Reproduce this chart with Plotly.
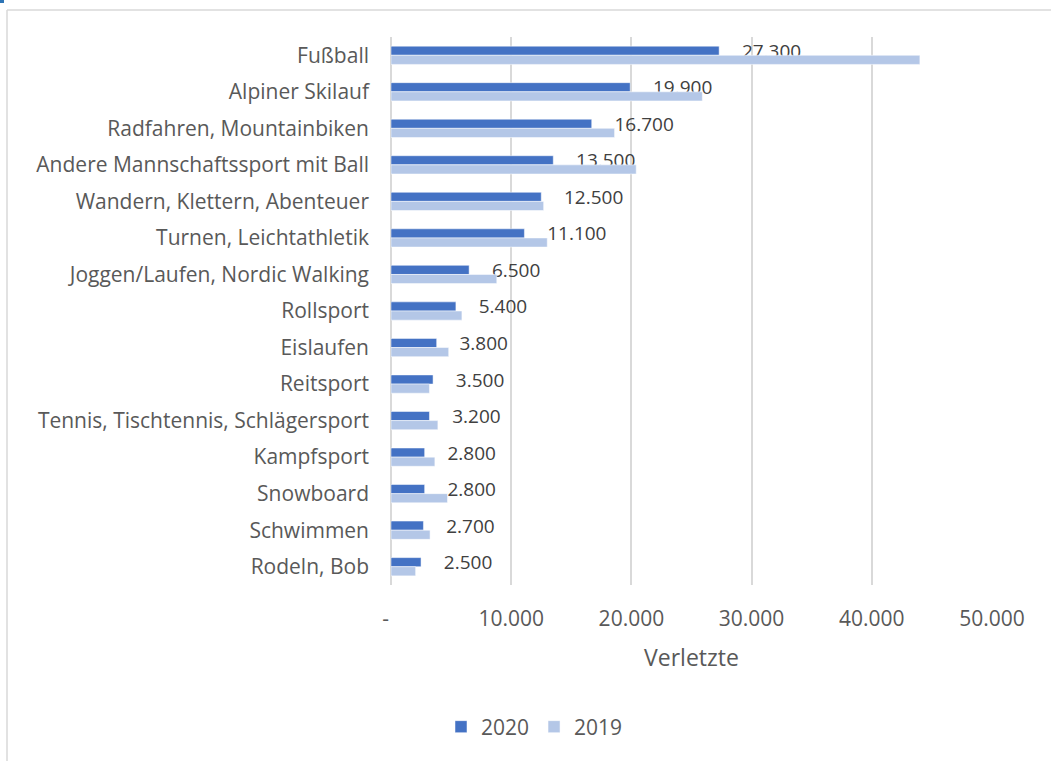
import plotly.graph_objects as go

categories = [
    "Fußball", "Alpiner Skilauf", "Radfahren, Mountainbiken",
    "Andere Mannschaftssport mit Ball", "Wandern, Klettern, Abenteuer",
    "Turnen, Leichtathletik", "Joggen/Laufen, Nordic Walking", "Rollsport",
    "Eislaufen", "Reitsport", "Tennis, Tischtennis, Schlägersport",
    "Kampfsport", "Snowboard", "Schwimmen", "Rodeln, Bob",
]
values_2020 = [27300, 19900, 16700, 13500, 12500, 11100, 6500, 5400, 3800, 3500, 3200, 2800, 2800, 2700, 2500]
values_2019 = [44000, 25900, 18600, 20400, 12700, 13000, 8800, 5900, 4800, 3200, 3900, 3650, 4700, 3250, 2050]
tick_vals = [0, 10000, 20000, 30000, 40000, 50000]
tick_text = ["-\u00a0\u00a0", "10.000", "20.000", "30.000", "40.000", "50.000"]

FONT = "Open Sans"
GREY = "#595959"

def fmt(v):
    return f"{v:,}".replace(",", ".")

fig = go.Figure()
fig.add_trace(go.Bar(
    y=categories, x=values_2020, orientation="h", name="2020",
    marker=dict(color="#4472C4", line=dict(color="white", width=0.5)),
    text=["\u00a0\u00a0\u00a0\u00a0" + fmt(v) for v in values_2020],
    textposition="outside", cliponaxis=False, constraintext="none",
    textfont=dict(family=FONT, size=19, color="#404040"),
))
fig.add_trace(go.Bar(
    y=categories, x=values_2019, orientation="h", name="2019",
    marker=dict(color="#B4C7E7", line=dict(color="white", width=0.5)),
))

# chart frame (cropped on right/bottom) and small blue corner mark
PX_W, PX_H = 601, 548
fig.add_shape(type="line", xref="paper", yref="paper",
              x0=(7 - 391) / PX_W, x1=(1070 - 391) / PX_W,
              y0=(585 - 10) / PX_H, y1=(585 - 10) / PX_H,
              line=dict(color="#D9D9D9", width=1.5))
fig.add_shape(type="line", xref="paper", yref="paper",
              x0=(7 - 391) / PX_W, x1=(7 - 391) / PX_W,
              y0=(585 - 10) / PX_H, y1=(585 - 780) / PX_H,
              line=dict(color="#D9D9D9", width=1.5))
fig.add_shape(type="rect", xref="paper", yref="paper",
              x0=(0 - 391) / PX_W, x1=(4 - 391) / PX_W,
              y0=(585 + 5) / PX_H, y1=(585 - 3) / PX_H,
              line=dict(width=0), fillcolor="#2E75B6")

fig.update_layout(
    width=1051, height=761,
    margin=dict(l=391, r=59, t=37, b=176),
    paper_bgcolor="white", plot_bgcolor="white",
    barmode="group", bargap=0.5, bargroupgap=0,
    font=dict(family=FONT, size=21, color=GREY),
    showlegend=True,
    legend=dict(orientation="h", x=(441 - 391) / PX_W, xanchor="left",
                y=(585 - 727) / PX_H, yanchor="middle",
                font=dict(family=FONT, size=21, color=GREY),
                itemwidth=30, traceorder="normal"),
    xaxis=dict(range=[0, 50000], tickvals=tick_vals, ticktext=tick_text,
               showgrid=True, gridcolor="#D9D9D9", gridwidth=1.5,
               zeroline=True, zerolinecolor="#D9D9D9", zerolinewidth=1.5,
               showline=False, ticks="", ticklabelstandoff=19,
               tickfont=dict(family=FONT, size=21, color=GREY),
               title=dict(text="Verletzte", standoff=18,
                          font=dict(family=FONT, size=23, color=GREY))),
    yaxis=dict(autorange="reversed", type="category", categoryorder="array",
               categoryarray=categories, showgrid=False, ticks="",
               ticklabelstandoff=21,
               tickfont=dict(family=FONT, size=21, color=GREY)),
)

fig.write_html("out.html", config={"displayModeBar": False},
               post_script="document.body.style.margin='0';document.body.style.overflow='hidden';")
